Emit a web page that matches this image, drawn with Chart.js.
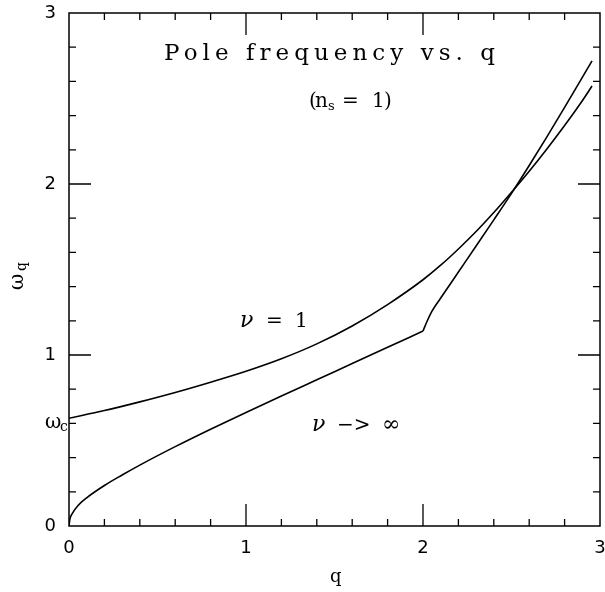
<!DOCTYPE html>
<html><head><meta charset="utf-8">
<script src="https://cdn.jsdelivr.net/npm/chart.js@4/dist/chart.umd.min.js"></script>
<style>html,body{margin:0;padding:0;background:#fff}#wrap{width:605px;height:592px}</style>
</head><body><div id="wrap"><canvas id="c" width="605" height="592"></canvas></div>
<script>
// ν = 1 curve
const qNu1 = [0,0.2,0.4,0.6,0.8,1.0,1.2,1.4,1.6,1.8,2.0,2.1,2.2,2.3,2.4,2.5,2.6,2.7,2.8,2.9,2.955];
const wNu1 = [0.63,0.675,0.726,0.781,0.841,0.905,0.978,1.065,1.17,1.295,1.44,1.525,1.62,1.722,1.833,1.952,2.075,2.205,2.342,2.487,2.573];
// ν -> ∞ curve, below the kink at q = 2
const qInfLow = [0,0.005,0.02,0.05,0.1,0.2,0.3,0.4,0.6,0.8,1.0,1.2,1.4,1.6,1.8,2.0];
const wInfLow = [0,0.04,0.075,0.118,0.165,0.237,0.298,0.356,0.464,0.566,0.664,0.76,0.855,0.95,1.045,1.14];
// ν -> ∞ curve, above the kink
const qInfHigh = [2.0,2.02,2.05,2.1,2.2,2.3,2.4,2.5,2.6,2.7,2.8,2.9,2.955];
const wInfHigh = [1.14,1.19,1.255,1.333,1.485,1.637,1.79,1.945,2.108,2.276,2.448,2.623,2.72];
// tick labels
const xTickVals = [0,1,2,3];
const yTickVals = [0,1,2,3];

const pts = (q,w)=>q.map((x,i)=>({x:x,y:w[i]}));

function spaced(ctx, text, x, y, width){
  ctx.save();
  if ('letterSpacing' in ctx){
    ctx.letterSpacing='0px';
    const w0 = ctx.measureText(text).width;
    const sp = (width - w0)/(text.length-1);
    ctx.letterSpacing = sp+'px';
    ctx.fillText(text, x, y);
  } else {
    let w0=0; for(const ch of text) w0+=ctx.measureText(ch).width;
    const sp=(width-w0)/(text.length-1); let cx=x;
    for(const ch of text){ctx.fillText(ch,cx,y); cx+=ctx.measureText(ch).width+sp;}
  }
  ctx.restore();
}

const framePlugin = {
  id:'frame',
  afterDraw(chart){
    const ctx=chart.ctx, a=chart.chartArea, xs=chart.scales.x, ys=chart.scales.y;
    const X=v=>xs.getPixelForValue(v), Y=v=>ys.getPixelForValue(v);
    ctx.save();
    ctx.strokeStyle='#000'; ctx.lineWidth=1.5;
    ctx.strokeRect(a.left,a.top,a.right-a.left,a.bottom-a.top);
    ctx.lineWidth=1.3;
    ctx.beginPath();
    for(let i=1;i<15;i++){
      const v=i/5, major=(i%5===0), L=major?22:7;
      const px=X(v), py=Y(v);
      ctx.moveTo(px,a.bottom); ctx.lineTo(px,a.bottom-L);
      ctx.moveTo(px,a.top); ctx.lineTo(px,a.top+L);
      ctx.moveTo(a.left,py); ctx.lineTo(a.left+L,py);
      ctx.moveTo(a.right,py); ctx.lineTo(a.right-L,py);
    }
    ctx.stroke();
    ctx.fillStyle='#000'; ctx.textBaseline='alphabetic'; ctx.textAlign='left';
    // title
    ctx.font='23px "DejaVu Serif"';
    spaced(ctx,'Pole frequency vs. q', X(0.537), Y(2.725), X(2.407)-X(0.537));
    // subtitle (n_s = 1)
    ctx.font='20px "DejaVu Serif"';
    ctx.fillText('(', X(1.356), Y(2.453));
    ctx.fillText('n', X(1.39), Y(2.453));
    ctx.font='13px "DejaVu Serif"';
    ctx.fillText('s', X(1.463), Y(2.43));
    ctx.font='20px "DejaVu Serif"';
    ctx.fillText('=', X(1.542), Y(2.453));
    ctx.fillText('1', X(1.712), Y(2.453));
    ctx.fillText(')', X(1.78), Y(2.453));
    // ν = 1
    ctx.font='italic 22px "DejaVu Serif"';
    ctx.fillText('ν', X(0.966), Y(1.161));
    ctx.font='20px "DejaVu Serif"';
    ctx.fillText('=', X(1.113), Y(1.161));
    ctx.fillText('1', X(1.277), Y(1.161));
    // ν -> ∞
    ctx.font='italic 22px "DejaVu Serif"';
    ctx.fillText('ν', X(1.373), Y(0.558));
    ctx.font='20px "DejaVu Serif"';
    ctx.fillText('−>', X(1.514), Y(0.558));
    ctx.font='22px "DejaVu Serif"';
    ctx.fillText('∞', X(1.768), Y(0.558));
    // ω_c
    ctx.font='20px "DejaVu Serif"';
    ctx.fillText('ω', X(-0.136), Y(0.576));
    ctx.font='14px "DejaVu Serif"';
    ctx.fillText('c', X(-0.051), Y(0.558));
    // y title ω_q
    ctx.save();
    ctx.translate(23, 290); ctx.rotate(-Math.PI/2);
    ctx.font='20px "DejaVu Serif"';
    ctx.fillText('ω',0,0);
    ctx.font='14px "DejaVu Serif"';
    ctx.fillText('q',19,3);
    ctx.restore();
    // x title
    ctx.font='18px "DejaVu Serif"';
    ctx.fillText('q',330,582);
    ctx.restore();
  }
};

const tickFont={family:'DejaVu Sans',size:18};
const line = (label,data)=>({label:label,data:data,showLine:true,borderColor:'#000',borderWidth:1.6,pointRadius:0,cubicInterpolationMode:'monotone',fill:false});
new Chart(document.getElementById('c').getContext('2d'),{
  type:'scatter',
  data:{datasets:[
    line('ν = 1', pts(qNu1,wNu1)),
    line('ν -> ∞', pts(qInfLow,wInfLow)),
    line('ν -> ∞ (q > 2)', pts(qInfHigh,wInfHigh))
  ]},
  options:{
    responsive:false,animation:false,devicePixelRatio:1,
    layout:{padding:{left:0,right:5,top:13,bottom:0}},
    plugins:{legend:{display:false},tooltip:{enabled:false}},
    scales:{
      x:{type:'linear',min:0,max:3,
        afterBuildTicks(s){s.ticks=xTickVals.map(v=>({value:v}));},
        afterFit(s){s.height=66;s.paddingLeft=0;s.paddingRight=0;},
        ticks:{font:tickFont,color:'#000',padding:12,maxRotation:0,autoSkip:false,callback:v=>String(v)},
        grid:{display:false,drawTicks:false},border:{display:false}},
      y:{type:'linear',min:0,max:3,
        afterBuildTicks(s){s.ticks=yTickVals.map(v=>({value:v}));},
        afterFit(s){s.width=69;s.paddingTop=0;s.paddingBottom=0;},
        ticks:{font:tickFont,color:'#000',padding:13,autoSkip:false,callback:v=>String(v)},
        grid:{display:false,drawTicks:false},border:{display:false}}
    }
  },
  plugins:[framePlugin]
});
</script></body></html>
